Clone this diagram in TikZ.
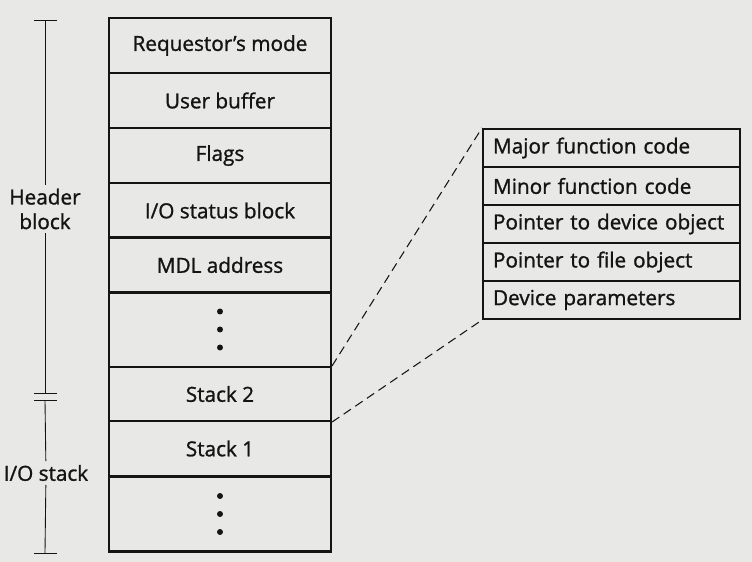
\documentclass[tikz,border=0pt]{standalone}
\usepackage{fontspec}
\setmainfont{Open Sans}
\newfontfamily\scanfont{Open Sans}[FakeBold=1.2]
\usetikzlibrary{arrows.meta}

\definecolor{paper}{RGB}{232,232,230}
\definecolor{ink}{RGB}{20,20,20}

\begin{document}
\begin{tikzpicture}[x=0.02cm, y=-0.02cm, font=\scanfont\fontsize{11.8}{14}\selectfont, text=ink,
  cell/.style={draw=ink, line width=1.2pt, minimum width=4.44cm, minimum height=1.1cm, inner sep=0pt},
  gap/.style={cell, minimum height=1.5cm},
  field/.style={draw=ink, line width=1.2pt, text width=4.74cm, inner xsep=0.2cm, inner ysep=0pt,
    minimum height=0.76cm, align=left},
  span/.style={ink, line width=0.5pt},
  zoomline/.style={ink, line width=0.6pt, dash pattern=on 5pt off 3pt}]
\fill[paper] (0,0) rectangle (752,562);
\useasboundingbox (0,0) rectangle (752,562);

% IRP column
\node[cell] (M)  at (220,45.5)  {Requestor’s mode};
\node[cell] (U)  at (220,100.5) {User buffer};
\node[cell] (F)  at (220,155.5) {Flags};
\node[cell] (S)  at (220,210.5) {I/O status block};
\node[cell] (D)  at (220,265)   {MDL address};
\node[gap]  (G1) at (220,329.5) {};
\node[cell, minimum height=1.08cm] (S2) at (220,394) {Stack 2};
\node[cell] (S1) at (220,448.5) {Stack 1};
\node[gap]  (G2) at (220,514)   {};
\foreach \d in {-18,0,18} {
  \fill[ink] ([yshift=\d*0.02cm]G1.center) circle (1.7pt);
  \fill[ink] ([yshift=\d*0.02cm]G2.center) circle (1.7pt);
}

% stack location
\node[field] (P1) at (611.5,148) {Major function code};
\node[field] (P2) at (611.5,186) {Minor function code};
\node[field] (P3) at (611.5,224) {Pointer to device object};
\node[field] (P4) at (611.5,262) {Pointer to file object};
\node[field] (P5) at (611.5,300) {Device parameters};
\draw[zoomline] (S2.north east) -- (P1.north west);
\draw[zoomline] (S2.south east) -- (P5.south west);

% spans on the left
\coordinate (T)  at (45,20);
\coordinate (B1) at (45,393);
\coordinate (B2) at (45,400);
\coordinate (E)  at (45,553);
\node[align=center, inner sep=2pt] (H) at (45,209) {Header\\block};
\node[inner sep=2pt] (K) at (46,473) {I/O stack};
\draw[span] (T) -- (H);
\draw[span] (H) -- (B1);
\draw[span] (B2) -- (K);
\draw[span] (K) -- (E);
\foreach \c in {T,B1,B2,E}
  \draw[span] ([xshift=-0.22cm]\c) -- ([xshift=0.24cm]\c);
\end{tikzpicture}
\end{document}
